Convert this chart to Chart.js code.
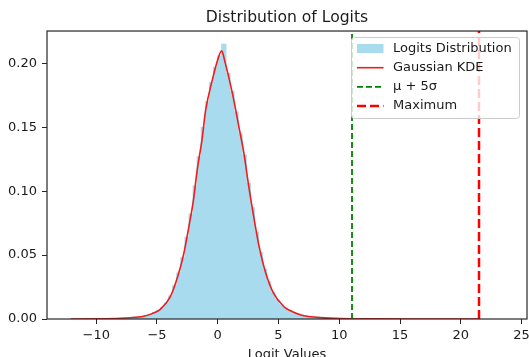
<!DOCTYPE html>
<html>
<head>
<meta charset="utf-8">
<script src="https://cdn.jsdelivr.net/npm/chart.js@4.4.1/dist/chart.umd.min.js"></script>
<style>
  html, body { margin:0; padding:0; background:#fff; overflow:hidden; }
  #wrap { position:relative; width:529px; height:357px; }
</style>
</head>
<body>
<div id="wrap"><canvas id="logits"></canvas></div>
<script>
// Histogram bins (centre, density)
const binCenters = [-7.564, -7.228, -6.892, -6.556, -6.220, -5.884, -5.548, -5.212, -4.876, -4.540,
  -4.204, -3.868, -3.532, -3.196, -2.860, -2.524, -2.188, -1.852, -1.516, -1.180,
  -0.844, -0.508, -0.172, 0.164, 0.500, 0.836, 1.172, 1.508, 1.844, 2.180,
  2.516, 2.852, 3.188, 3.524, 3.860, 4.196, 4.532, 4.868, 5.204, 5.540,
  5.876, 6.212, 6.548, 6.884, 7.220, 7.556, 7.892, 8.228, 8.564, 8.900,
  9.236, 9.572];
const binHeights = [0.0008, 0.0010, 0.0012, 0.0015, 0.0020, 0.0028, 0.0037, 0.0050, 0.0068, 0.0090,
  0.0125, 0.0180, 0.0260, 0.0360, 0.0480, 0.0640, 0.0820, 0.1040, 0.1270, 0.1500,
  0.1700, 0.1850, 0.1970, 0.2060, 0.2150, 0.1920, 0.1780, 0.1620, 0.1450, 0.1280,
  0.1060, 0.0870, 0.0680, 0.0520, 0.0390, 0.0290, 0.0210, 0.0150, 0.0110, 0.0088,
  0.0068, 0.0050, 0.0039, 0.0030, 0.0024, 0.0019, 0.0015, 0.0012, 0.0010, 0.0008,
  0.0006, 0.0005];

// Gaussian KDE curve
const kdeX = [-12.1, -10, -8.5, -7.2, -6.1, -5.4, -4.7, -3.9, -3.3, -2.8, -2.4, -2.0, -1.7, -1.3, -1.0,
  -0.45, 0.0, 0.33, 0.55, 1.2, 1.75, 2.15, 2.55, 3.0, 3.4, 3.95, 4.6, 5.45, 5.9, 6.9, 8.2, 9.6,
  11, 13, 16, 21.5];
const kdeY = [0.00002, 0.0001, 0.0004, 0.001, 0.0022, 0.0042, 0.0078, 0.0175, 0.033, 0.051, 0.071, 0.093, 0.116, 0.140, 0.163,
  0.187, 0.203, 0.210, 0.203, 0.177, 0.150, 0.130, 0.104, 0.078, 0.057, 0.036, 0.020, 0.0096, 0.0068, 0.003, 0.0013, 0.0005,
  0.0002, 0.0001, 0.00004, 0.00001];

const mu5Sigma = 11.05;
const maxLogit = 21.5;

const xTicks = [-10, -5, 0, 5, 10, 15, 20, 25];
const yTicks = [0, 0.05, 0.10, 0.15, 0.20];
const xMin = -14.05, xMax = 25.45;
const yMax = 0.2254;

const FONT = 'DejaVu Sans';
const INK = '#1a1a1a';
const HIST = '#a9dbef';   // skyblue @ 0.7 alpha on white

// top/right spines like matplotlib
const spines = {
  id: 'spines',
  afterDatasetsDraw(chart) {
    const { ctx, chartArea: { left, right, top, bottom } } = chart;
    ctx.save();
    ctx.strokeStyle = '#262626';
    ctx.lineWidth = 1.2;
    ctx.strokeRect(left, top, right - left, bottom - top);
    ctx.restore();
  }
};

// legend drawn inside the axes, upper right
const insideLegend = {
  id: 'insideLegend',
  afterDraw(chart, args, opts) {
    const { ctx } = chart;
    const x = opts.x, y = opts.y, w = opts.w, h = opts.h;
    ctx.save();
    ctx.beginPath();
    ctx.roundRect(x + 0.5, y + 0.5, w, h, 3);
    ctx.fillStyle = 'rgba(255,255,255,0.8)';
    ctx.fill();
    ctx.strokeStyle = '#cccccc';
    ctx.lineWidth = 1;
    ctx.stroke();

    ctx.font = `13px "${FONT}"`;
    ctx.textBaseline = 'middle';
    ctx.textAlign = 'left';
    chart.data.datasets.forEach((ds, i) => {
      const cy = y + opts.first + i * opts.step;
      const hx = x + 6;
      if (ds.type === 'bar') {
        ctx.fillStyle = ds.backgroundColor;
        ctx.fillRect(hx, cy - 4.5, 26.5, 9);
      } else {
        ctx.strokeStyle = ds.borderColor;
        ctx.lineWidth = ds.borderWidth;
        ctx.setLineDash(ds.borderDash || []);
        ctx.beginPath();
        ctx.moveTo(hx, cy);
        ctx.lineTo(hx + 26.5, cy);
        ctx.stroke();
        ctx.setLineDash([]);
      }
      ctx.fillStyle = INK;
      ctx.fillText(ds.label, x + 42, cy);
    });
    ctx.restore();
  }
};

new Chart(document.getElementById('logits'), {
  type: 'bar',
  data: {
    datasets: [
      {
        type: 'bar',
        label: 'Logits Distribution',
        data: binCenters.map((c, i) => ({ x: c, y: binHeights[i] })),
        backgroundColor: HIST,
        borderWidth: 0,
        inflateAmount: 0.6,
        barPercentage: 1,
        categoryPercentage: 1,
        order: 4
      },
      {
        type: 'line',
        label: 'Gaussian KDE',
        data: kdeX.map((v, i) => ({ x: v, y: kdeY[i] })),
        borderColor: '#f01c1c',
        borderWidth: 1.6,
        pointRadius: 0,
        cubicInterpolationMode: 'monotone',
        fill: false,
        order: 3
      },
      {
        type: 'line',
        label: 'μ + 5σ',
        data: [{ x: mu5Sigma, y: 0 }, { x: mu5Sigma, y: yMax }],
        borderColor: '#008000',
        borderWidth: 1.8,
        borderDash: [6, 3],
        pointRadius: 0,
        order: 2
      },
      {
        type: 'line',
        label: 'Maximum',
        data: [{ x: maxLogit, y: 0 }, { x: maxLogit, y: yMax }],
        borderColor: '#ff0000',
        borderWidth: 2.5,
        borderDash: [9, 4],
        pointRadius: 0,
        order: 1
      }
    ]
  },
  options: {
    responsive: true,
    maintainAspectRatio: false,
    animation: false,
    layout: { padding: { left: 0, right: 2, top: 0, bottom: 0 } },
    scales: {
      x: {
        type: 'linear',
        min: xMin, max: xMax,
        offset: false,
        afterBuildTicks: axis => { axis.ticks = xTicks.map(v => ({ value: v })); },
        afterFit: axis => { axis.height = 38; axis.paddingLeft = 0; axis.paddingRight = 0; },
        ticks: {
          color: INK, padding: 4,
          font: { family: FONT, size: 13 },
          callback: v => String(v).replace('-', '\u2212')
        },
        grid: { display: true, drawOnChartArea: false, drawTicks: true, tickLength: 5, tickColor: '#262626', offset: false },
        border: { display: false },
        title: { display: true, text: 'Logit Values', color: INK, font: { family: FONT, size: 13 }, padding: { top: 0, bottom: -5 } }
      },
      y: {
        min: 0, max: yMax,
        afterBuildTicks: axis => { axis.ticks = yTicks.map(v => ({ value: v })); },
        afterFit: axis => { axis.width = 47; axis.paddingTop = 0; axis.paddingBottom = 0; },
        ticks: {
          color: INK, padding: 5,
          font: { family: FONT, size: 13 },
          callback: v => v.toFixed(2)
        },
        grid: { display: true, drawOnChartArea: false, drawTicks: true, tickLength: 5, tickColor: '#262626' },
        border: { display: false }
      }
    },
    plugins: {
      legend: { display: false },
      tooltip: { enabled: false },
      title: {
        display: true,
        fullSize: false,
        text: 'Distribution of Logits',
        color: INK,
        font: { family: FONT, size: 15.6, weight: 'normal' },
        padding: { top: 9, bottom: 3.3 }
      },
      insideLegend: { x: 351, y: 37, w: 168, h: 81, first: 11.5, step: 19.2 }
    }
  },
  plugins: [spines, insideLegend]
});
</script>
</body>
</html>
